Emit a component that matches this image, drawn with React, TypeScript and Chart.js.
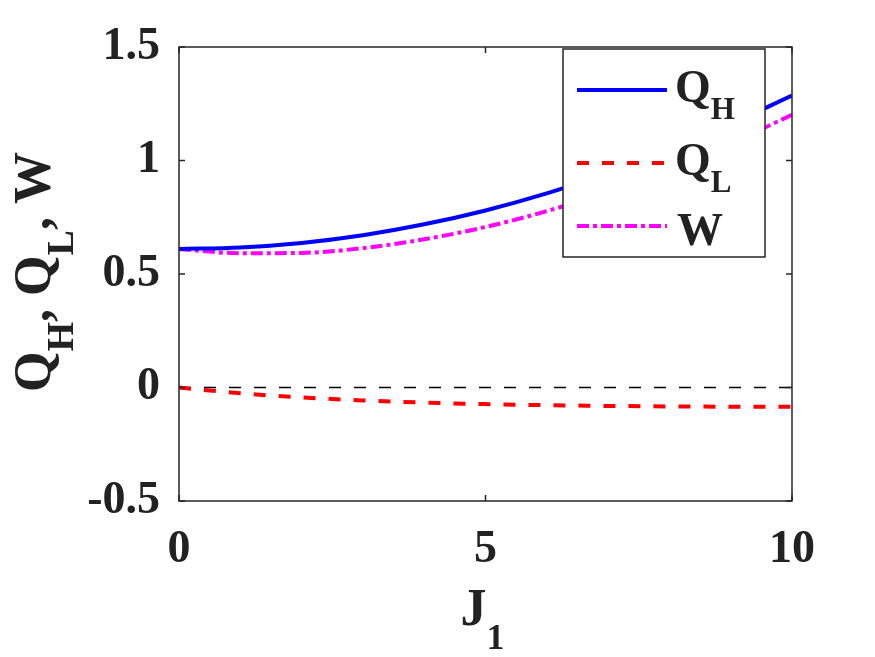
import React, { useEffect, useRef } from 'react';
import { Chart, registerables } from 'chart.js';

Chart.register(...registerables);

// ---- data ----
const J1 = [0, 1, 2, 3, 4, 5, 6, 7, 8, 9, 10];
const QH = [0.61, 0.617, 0.637, 0.671, 0.719, 0.78, 0.855, 0.943, 1.045, 1.161, 1.286];
const QL = [0, -0.0255, -0.0437, -0.0569, -0.0664, -0.0732, -0.0778, -0.0812, -0.0833, -0.0845, -0.0852];
const W = [0.61, 0.5915, 0.593, 0.614, 0.653, 0.707, 0.777, 0.862, 0.961, 1.076, 1.201];
const ZERO_X = [0, 10];
const ZERO_Y = [0, 0];
const X_MIN = 0;
const X_MAX = 10;
const X_STEP = 5;
const Y_MIN = -0.5;
const Y_MAX = 1.5;
const Y_STEP = 0.5;
const LEGEND_MAIN = ['Q', 'Q', 'W'];
const LEGEND_SUB = ['H', 'L', ''];
const Y_TITLE = [
  { t: 'Q', sub: false },
  { t: 'H', sub: true },
  { t: ', Q', sub: false },
  { t: 'L', sub: true },
  { t: ', W', sub: false },
];
const X_TITLE = [
  { t: 'J', sub: false },
  { t: '1', sub: true },
];

const FONT = '"Liberation Serif", "Times New Roman", serif';
const TEXT = '#222222';
const AXIS = '#262626';

const toXY = (xs: number[], ys: number[]) => xs.map((x, i) => ({ x, y: ys[i] }));

type Seg = { t: string; sub: boolean };

function segWidth(ctx: CanvasRenderingContext2D, segs: Seg[], main: number, sub: number) {
  let w = 0;
  for (const s of segs) {
    ctx.font = `bold ${s.sub ? sub : main}px ${FONT}`;
    w += ctx.measureText(s.t).width;
  }
  return w;
}

function drawSegs(ctx: CanvasRenderingContext2D, segs: Seg[], x: number, y: number, main: number, sub: number, subOff: number) {
  let cx = x;
  ctx.textBaseline = 'alphabetic';
  ctx.textAlign = 'left';
  for (const s of segs) {
    ctx.font = `bold ${s.sub ? sub : main}px ${FONT}`;
    ctx.fillText(s.t, cx, s.sub ? y + subOff : y);
    cx += ctx.measureText(s.t).width;
  }
}

const legendPlugin = {
  id: 'matlabLegend',
  afterDatasetsDraw(chart: any) {
    const ctx = chart.ctx as CanvasRenderingContext2D;
    const ds = chart.data.datasets;
    ctx.save();
    const bx = 563, by = 49, bw = 202, bh = 208;
    ctx.fillStyle = '#ffffff';
    ctx.fillRect(bx, by, bw, bh);
    ctx.strokeStyle = AXIS;
    ctx.lineWidth = 1.5;
    ctx.strokeRect(bx, by, bw, bh);
    const lineY = [90, 163, 226];
    const baseY = [102, 175, 245];
    for (let i = 0; i < 3; i++) {
      const d = ds[i];
      ctx.strokeStyle = d.borderColor;
      ctx.lineWidth = d.borderWidth;
      ctx.setLineDash(d.borderDash || []);
      ctx.beginPath();
      ctx.moveTo(577, lineY[i]);
      ctx.lineTo(667, lineY[i]);
      ctx.stroke();
      ctx.setLineDash([]);
      ctx.fillStyle = TEXT;
      const segs: Seg[] = [{ t: LEGEND_MAIN[i], sub: false }];
      if (LEGEND_SUB[i]) segs.push({ t: LEGEND_SUB[i], sub: true });
      drawSegs(ctx, segs, i === 2 ? 677 : 675, baseY[i], 46, 31, 17);
    }
    ctx.restore();
  },
};

const framePlugin = {
  id: 'matlabFrame',
  afterDraw(chart: any) {
    const ctx = chart.ctx as CanvasRenderingContext2D;
    const { left, right, top, bottom } = chart.chartArea;
    const xs = chart.scales.x;
    const ys = chart.scales.y;
    ctx.save();
    ctx.strokeStyle = AXIS;
    ctx.lineWidth = 1.5;
    ctx.strokeRect(left, top, right - left, bottom - top);
    const tl = 6;
    ctx.beginPath();
    for (let v = X_MIN; v <= X_MAX; v += X_STEP) {
      const px = xs.getPixelForValue(v);
      ctx.moveTo(px, bottom);
      ctx.lineTo(px, bottom - tl);
      ctx.moveTo(px, top);
      ctx.lineTo(px, top + tl);
    }
    for (let v = Y_MIN; v <= Y_MAX + 1e-9; v += Y_STEP) {
      const py = ys.getPixelForValue(v);
      ctx.moveTo(left, py);
      ctx.lineTo(left + tl, py);
      ctx.moveTo(right, py);
      ctx.lineTo(right - tl, py);
    }
    ctx.stroke();

    // axis titles
    ctx.fillStyle = TEXT;
    const xw = segWidth(ctx, X_TITLE, 52, 36);
    const xc = (left + right) / 2 - 3;
    drawSegs(ctx, X_TITLE, xc - xw / 2, 625, 52, 36, 24);
    const yw = segWidth(ctx, Y_TITLE, 52, 38);
    const yc = (top + bottom) / 2 - 2;
    ctx.translate(50, yc);
    ctx.rotate(-Math.PI / 2);
    drawSegs(ctx, Y_TITLE, -yw / 2, 0, 52, 38, 23);
    ctx.restore();
  },
};

export default function App() {
  const ref = useRef<HTMLCanvasElement | null>(null);
  useEffect(() => {
    document.body.style.margin = '0';
    const canvas = ref.current;
    if (!canvas) return;
    const chart = new Chart(canvas, {
      type: 'line',
      data: {
        datasets: [
          {
            label: 'Q_H',
            data: toXY(J1, QH),
            borderColor: '#0000ff',
            borderWidth: 4,
            pointRadius: 0,
            cubicInterpolationMode: 'monotone',
            fill: false,
          },
          {
            label: 'Q_L',
            data: toXY(J1, QL),
            borderColor: '#ff0000',
            borderWidth: 4,
            borderDash: [12, 13],
            pointRadius: 0,
            cubicInterpolationMode: 'monotone',
            fill: false,
          },
          {
            label: 'W',
            data: toXY(J1, W),
            borderColor: '#ff00ff',
            borderWidth: 4,
            borderDash: [12, 4, 4, 4],
            pointRadius: 0,
            cubicInterpolationMode: 'monotone',
            fill: false,
          },
          {
            label: 'zero',
            data: toXY(ZERO_X, ZERO_Y),
            borderColor: '#000000',
            borderWidth: 1.5,
            borderDash: [12, 13],
            pointRadius: 0,
            fill: false,
          },
        ],
      },
      options: {
        responsive: false,
        animation: false,
        events: [],
        layout: { padding: { left: 0, top: 47, right: 83, bottom: 0 } },
        plugins: { legend: { display: false }, tooltip: { enabled: false } },
        scales: {
          x: {
            type: 'linear',
            min: X_MIN,
            max: X_MAX,
            grid: { display: false },
            border: { display: false },
            ticks: {
              stepSize: X_STEP,
              padding: 14,
              color: TEXT,
              font: { family: FONT, size: 46, weight: 'bold' },
              maxRotation: 0,
              callback: (v: any) => String(v),
            },
            afterFit: (s: any) => {
              s.height = 156;
            },
          },
          y: {
            type: 'linear',
            min: Y_MIN,
            max: Y_MAX,
            grid: { display: false },
            border: { display: false },
            ticks: {
              stepSize: Y_STEP,
              padding: 11,
              color: TEXT,
              font: { family: FONT, size: 46, weight: 'bold' },
              callback: (v: any) => String(v),
            },
            afterFit: (s: any) => {
              s.width = 179;
            },
          },
        },
      },
      plugins: [legendPlugin, framePlugin],
    } as any);
    return () => chart.destroy();
  }, []);
  return (
    <div style={{ position: 'absolute', left: 0, top: 0, width: 875, height: 657, background: '#fff' }}>
      <canvas ref={ref} width={875} height={657} style={{ display: 'block', width: 875, height: 657 }} />
    </div>
  );
}
